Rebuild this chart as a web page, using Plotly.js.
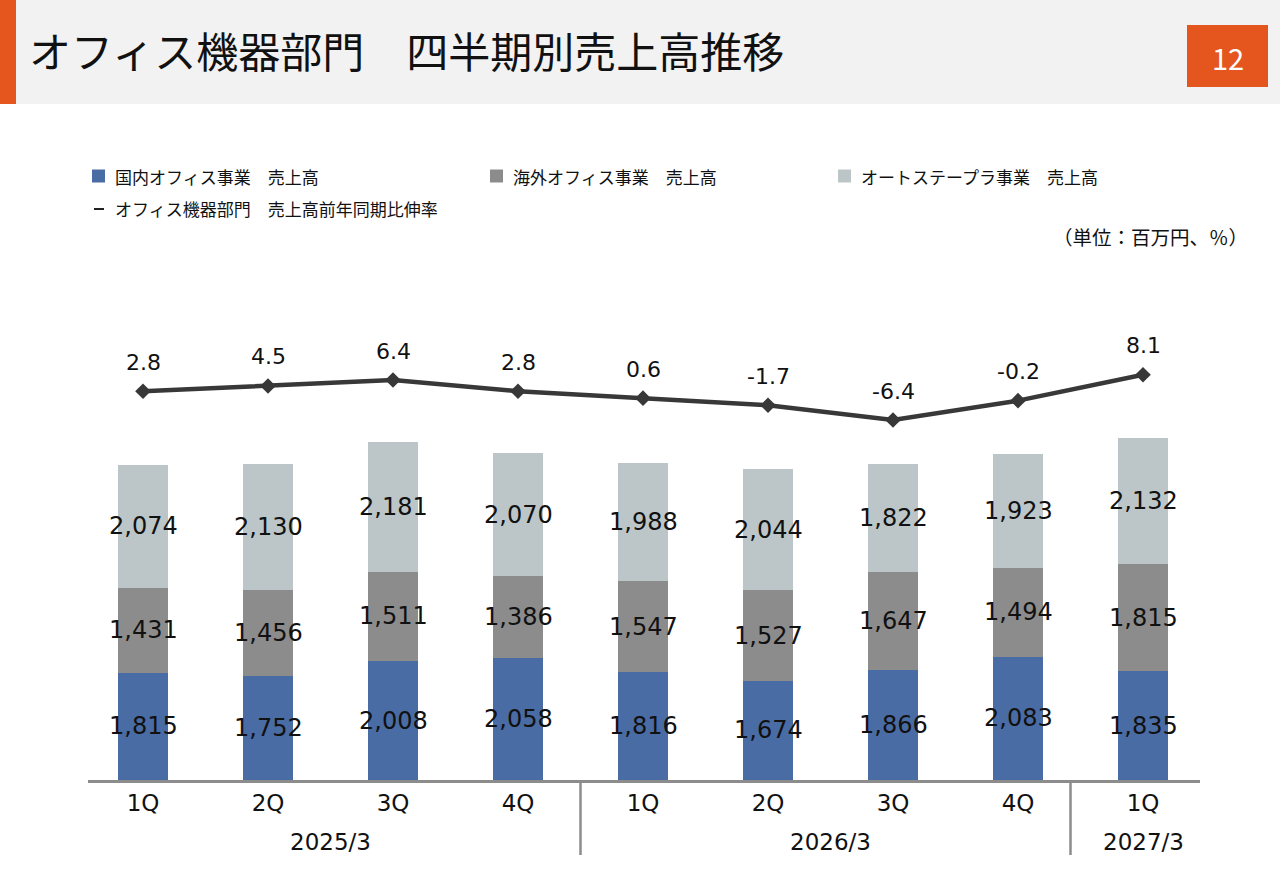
<!DOCTYPE html>
<html>
<head>
<meta charset="utf-8">
<script src="https://cdn.plot.ly/plotly-3.0.1.min.js"></script>
<style>
  html, body { margin: 0; padding: 0; background: #ffffff; }
  #chart { width: 1280px; height: 886px; }
</style>
</head>
<body>
<div id="chart"></div>
<script>
var quarters = ["1Q", "2Q", "3Q", "4Q", "1Q", "2Q", "3Q", "4Q", "1Q"];
var years = ["2025/3", "2026/3", "2027/3"];
var yearOf = [0, 0, 0, 0, 1, 1, 1, 1, 2];
var domestic = [1815, 1752, 2008, 2058, 1816, 1674, 1866, 2083, 1835];
var overseas = [1431, 1456, 1511, 1386, 1547, 1527, 1647, 1494, 1815];
var autoStapler = [2074, 2130, 2181, 2070, 1988, 2044, 1822, 1923, 2132];
var growth = [2.8, 4.5, 6.4, 2.8, 0.6, -1.7, -6.4, -0.2, 8.1];

var seriesNames = ["国内オフィス事業　売上高", "海外オフィス事業　売上高", "オートステープラ事業　売上高"];
var lineName = "オフィス機器部門　売上高前年同期比伸率";

var font = "Noto Sans CJK JP, Noto Sans, sans-serif";
var numFont = "DejaVu Sans, Noto Sans, sans-serif";
var colors = ["#4a6ca5", "#8c8c8c", "#bcc6c8"];
var orange = "#e5561f";

// plot area in pixels
var L = 88, R = 1200, T = 250, B = 780;
function px(x) { return (x - L) / (R - L); }
function py(y) { return (B - y) / (B - T); }

var idx = quarters.map(function (q, i) { return i; });
var fmt = function (v) { return v.toLocaleString("en-US"); };

function barTrace(vals, name, color) {
    return {
        type: "bar",
        x: idx,
        y: vals,
        name: name,
        width: 0.4,
        marker: { color: color, line: { width: 0 } },
        hoverinfo: "skip",
    };
}

var stacks = [domestic, overseas, autoStapler];

var traces = [
    barTrace(domestic, seriesNames[0], colors[0]),
    barTrace(overseas, seriesNames[1], colors[1]),
    barTrace(autoStapler, seriesNames[2], colors[2]),
    {
        type: "scatter",
        mode: "lines+markers",
        x: idx,
        y: growth,
        yaxis: "y2",
        name: lineName,
        line: { color: "#383838", width: 4.5 },
        marker: { symbol: "diamond", size: 12, color: "#383838" },
        hoverinfo: "skip",
    },
];

var annotations = [];

// bar segment labels (centered in each stacked segment)
idx.forEach(function (i) {
    var base = 0;
    stacks.forEach(function (s) {
        annotations.push({
            x: i, y: base + s[i] / 2, xref: "x", yref: "y",
            text: fmt(s[i]), showarrow: false,
            xanchor: "center", yanchor: "middle",
            font: { family: numFont, size: 24, color: "#111111" },
        });
        base += s[i];
    });
});

// line value labels
growth.forEach(function (g, i) {
    annotations.push({
        x: i, y: g, xref: "x", yref: "y2",
        text: g.toFixed(1), showarrow: false,
        xanchor: "center", yanchor: "middle",
        yshift: 29,
        font: { family: numFont, size: 22, color: "#111111" },
    });
});

// year group labels
years.forEach(function (yr, k) {
    var members = idx.filter(function (i) { return yearOf[i] === k; });
    var mid = (members[0] + members[members.length - 1]) / 2;
    annotations.push({
        x: mid, xref: "x", y: py(842), yref: "paper",
        xanchor: "center", yanchor: "middle",
        text: yr, showarrow: false,
        font: { family: numFont, size: 23, color: "#111111" },
    });
});

// legend (drawn by hand to match slide layout)
var legendItems = [
    { x: 92, y: 176, text: seriesNames[0], color: colors[0] },
    { x: 490, y: 176, text: seriesNames[1], color: colors[1] },
    { x: 838, y: 176, text: seriesNames[2], color: colors[2] },
];
var shapes = [];
legendItems.forEach(function (it) {
    shapes.push({
        type: "rect", xref: "paper", yref: "paper",
        x0: px(it.x), x1: px(it.x + 13), y0: py(it.y - 6.5), y1: py(it.y + 6.5),
        fillcolor: it.color, line: { width: 0 },
    });
    annotations.push({
        x: px(it.x + 21), y: py(it.y), xref: "paper", yref: "paper",
        xanchor: "left", yanchor: "middle", text: it.text, showarrow: false,
        font: { family: font, size: 17, color: "#111111" },
    });
});
shapes.push({
    type: "line", xref: "paper", yref: "paper",
    x0: px(94), x1: px(104), y0: py(209), y1: py(209),
    line: { color: "#222222", width: 2 },
});
annotations.push({
    x: px(113), y: py(209), xref: "paper", yref: "paper",
    xanchor: "left", yanchor: "middle", text: lineName, showarrow: false,
    font: { family: font, size: 17, color: "#111111" },
});
annotations.push({
    x: px(1250), y: py(236), xref: "paper", yref: "paper",
    xanchor: "right", yanchor: "middle", text: "（単位：百万円、％）", showarrow: false,
    font: { family: font, size: 19.5, color: "#111111" },
});

// header band, accent bar and page number
shapes.push({
    type: "rect", xref: "paper", yref: "paper", layer: "below",
    x0: px(0), x1: px(1280), y0: py(0), y1: py(104),
    fillcolor: "#f2f2f2", line: { width: 0 },
});
shapes.push({
    type: "rect", xref: "paper", yref: "paper",
    x0: px(0), x1: px(16), y0: py(0), y1: py(104),
    fillcolor: orange, line: { width: 0 },
});
shapes.push({
    type: "rect", xref: "paper", yref: "paper",
    x0: px(1187), x1: px(1268), y0: py(25), y1: py(87),
    fillcolor: orange, line: { width: 0 },
});
annotations.push({
    x: px(1227.5), y: py(57), xref: "paper", yref: "paper",
    xanchor: "center", yanchor: "middle",
    text: "12", showarrow: false,
    font: { family: font, size: 29, color: "#ffffff" },
});

// group separators below the axis
[3.5, 7.42].forEach(function (sx) {
    shapes.push({
        type: "line", xref: "x", yref: "paper",
        x0: sx, x1: sx, y0: py(782), y1: py(855),
        line: { color: "#8c8c8c", width: 2.5 },
    });
});

var layout = {
    width: 1280,
    height: 886,
    barmode: "stack",
    showlegend: false,
    paper_bgcolor: "#ffffff",
    plot_bgcolor: "rgba(0,0,0,0)",
    margin: { l: L, r: 1280 - R, t: T, b: 886 - B, pad: 0 },
    title: {
        text: "オフィス機器部門　四半期別売上高推移",
        x: 29 / 1280, xref: "container", xanchor: "left",
        y: 1 - 53 / 886, yref: "container", yanchor: "middle",
        font: { family: font, size: 42, color: "#111111" },
    },
    xaxis: {
        range: [(L - 143) / 125, (R - 143) / 125],
        tickvals: idx,
        ticktext: quarters,
        showgrid: false,
        zeroline: false,
        showline: true,
        linecolor: "#8c8c8c",
        linewidth: 2.5,
        ticks: "",
        ticklabelstandoff: 1,
        tickfont: { family: numFont, size: 23, color: "#111111" },
    },
    yaxis: {
        range: [0, 8950],
        visible: false,
        showgrid: false,
        zeroline: false,
    },
    yaxis2: {
        range: [-121.6, 48],
        overlaying: "y",
        side: "right",
        visible: false,
        showgrid: false,
        zeroline: false,
    },
    shapes: shapes,
    annotations: annotations,
};

Plotly.newPlot("chart", traces, layout, { staticPlot: true });
</script>
</body>
</html>
